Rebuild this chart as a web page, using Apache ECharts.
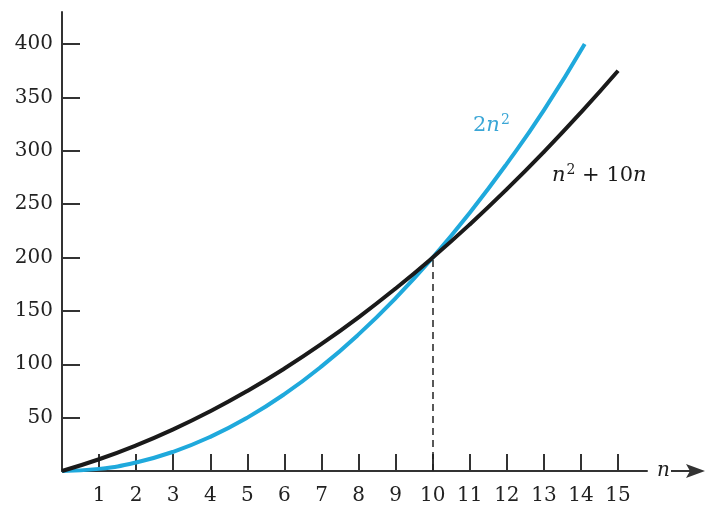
<!DOCTYPE html>
<html>
<head>
<meta charset="utf-8">
<script src="https://cdn.jsdelivr.net/npm/echarts@6/dist/echarts.min.js"></script>
<style>
html,body{margin:0;padding:0;background:#fff;}
#chart{width:706px;height:509px;}
</style>
</head>
<body>
<div id="chart"></div>
<script>
// 曲线数据
var nTicks=[1,2,3,4,5,6,7,8,9,10,11,12,13,14,15];
var yTicks=[50,100,150,200,250,300,350,400];
var nCyan=[0,1,2,3,4,5,6,7,8,9,10,11,12,13,14.1];
var cyanVals=[0,2,8,18,32,50,72,98,128,162,200,242,288,338,400];
var nBlack=[0,1,2,3,4,5,6,7,8,9,10,11,12,13,14,15];
var blackVals=[0,11,24,39,56,75,96,119,144,171,200,231,264,299,336,375];
var crossN=10, crossVal=200;

function pairs(xs,ys){
    var out=[];
    for(var i=0;i<xs.length;i++){out.push([xs[i],ys[i]]);}
    return out;
}

var serif="DejaVu Serif";
var chart=echarts.init(document.getElementById("chart"));
var option={
    animation:false,
    grid:{
        left:62,
        right:59,
        top:12,
        bottom:38
    },
    xAxis:{
        type:"value",
        min:0,
        max:15.78,
        name:"n",
        nameLocation:"end",
        nameGap:10,
        nameTextStyle:{
            color:"#222",
            fontFamily:serif,
            fontStyle:"italic",
            fontSize:20,
            padding:[8,0,0,0]
        },
        splitLine:{show:false},
        axisLine:{
            lineStyle:{color:"#333",width:2}
        },
        axisTick:{
            inside:true,
            length:17,
            customValues:nTicks,
            lineStyle:{color:"#333",width:2}
        },
        axisLabel:{
            customValues:nTicks,
            color:"#222",
            fontFamily:serif,
            fontSize:20,
            margin:15
        }
    },
    yAxis:{
        type:"value",
        min:0,
        max:430,
        splitLine:{show:false},
        axisLine:{
            show:true,
            lineStyle:{color:"#333",width:2}
        },
        axisTick:{
            show:true,
            inside:true,
            length:18,
            customValues:yTicks,
            lineStyle:{color:"#333",width:2}
        },
        axisLabel:{
            customValues:yTicks,
            color:"#222",
            fontFamily:serif,
            fontSize:20,
            margin:9
        }
    },
    series:[
        {
            name:"n^2+10n",
            type:"line",
            smooth:true,
            symbol:"none",
            z:3,
            lineStyle:{color:"#1a1a1a",width:4},
            data:pairs(nBlack,blackVals),
            markLine:{
                silent:true,
                symbol:"none",
                label:{show:false},
                lineStyle:{color:"#222",width:1.5,type:[7,5]},
                data:[[{coord:[crossN,0]},{coord:[crossN,crossVal]}]]
            }
        },
        {
            name:"2n^2",
            type:"line",
            smooth:true,
            symbol:"none",
            z:2,
            lineStyle:{color:"#1fa9dc",width:4},
            data:pairs(nCyan,cyanVals)
        }
    ]
};
chart.setOption(option);

// 箭头 与 曲线标注
var origin=chart.convertToPixel({gridIndex:0},[0,0]);
var ay=origin[1];
chart.setOption({
    graphic:[
        {
            type:"line",
            shape:{x1:671,y1:ay,x2:698,y2:ay},
            style:{stroke:"#333",lineWidth:2}
        },
        {
            type:"polygon",
            shape:{points:[[705,ay],[686,ay-7],[690,ay],[686,ay+7]]},
            style:{fill:"#333"}
        },
        {
            type:"text",
            left:473,
            top:113,
            style:{
                text:"{a|2}{i|n}{s|2}",
                rich:{
                    a:{fontFamily:serif,fontSize:21,fill:"#3aa6d6"},
                    i:{fontFamily:serif,fontSize:21,fontStyle:"italic",fill:"#3aa6d6"},
                    s:{fontFamily:serif,fontSize:14,fill:"#3aa6d6",padding:[0,0,12,1]}
                }
            }
        },
        {
            type:"text",
            left:552,
            top:163,
            style:{
                text:"{i|n}{s|2}{a| + 10}{i|n}",
                rich:{
                    a:{fontFamily:serif,fontSize:21,fill:"#1a1a1a"},
                    i:{fontFamily:serif,fontSize:21,fontStyle:"italic",fill:"#1a1a1a"},
                    s:{fontFamily:serif,fontSize:14,fill:"#1a1a1a",padding:[0,0,12,1]}
                }
            }
        }
    ]
});
</script>
</body>
</html>
